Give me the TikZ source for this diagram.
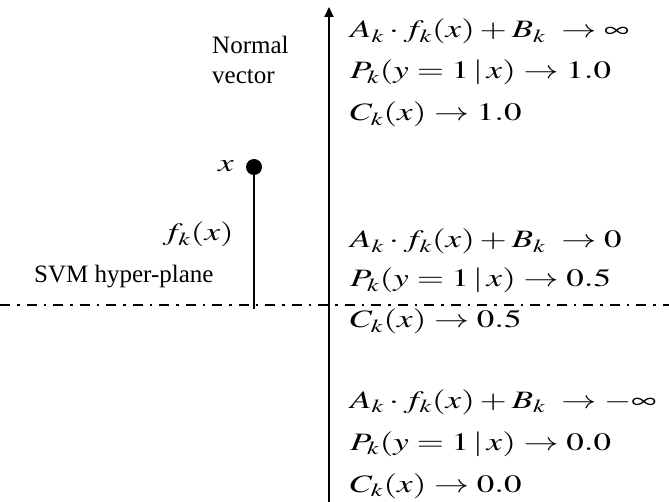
\documentclass[tikz,border=0pt]{standalone}
\usepackage{mathptmx}
\usepackage{graphicx}
\usepackage{fontspec}
\setmainfont{Liberation Serif}
\usetikzlibrary{arrows.meta,positioning}
\newcommand{\mexpr}[1]{\scalebox{1.4}[1]{$#1$}}

\begin{document}
\begin{tikzpicture}[x=1pt, y=-1pt,
  eqn/.style={anchor=base west, inner sep=0pt, font=\fontsize{25}{28}\selectfont},
  lbl/.style={anchor=base west, inner sep=0pt, font=\fontsize{25}{28}\selectfont},
  axis/.style={line width=2pt, -{Triangle[length=10pt,width=9pt]}},
  plane/.style={line width=2.2pt, dash pattern=on 10pt off 7pt on 2.5pt off 7pt},
  stem/.style={line width=2pt}
]
\useasboundingbox (0,0) rectangle (669,502);
% axes
\coordinate (axbot) at (329,502);
\coordinate (axtop) at (329,7);
\coordinate (hpl) at (0,305);
\coordinate (hpr) at (669,305);
\draw[plane] (hpl) -- (hpr);
\draw[axis] (axbot) -- (axtop);
% sample point
\node[circle, fill, inner sep=0pt, minimum size=16pt] (xpt) at (254,167) {};
\coordinate (xfoot) at (254,309);
\draw[stem] (xpt.center) -- (xfoot);
\node[eqn, anchor=base east] (xlab) at (234,172) {\mexpr{x}};
\node[eqn, anchor=base east] (flab) at (234,241) {\mexpr{f_k(x)}};
% labels
\node[lbl] (norm) at (212,54) {Normal};
\node[lbl] (vec) at (212,84) {vector};
\node[lbl] (svm) at (34,283) {SVM hyper-plane};
% upper side
\node[eqn] (a1) at (350,38) {\mexpr{A_k\cdot f_k(x)+B_k\;\rightarrow\infty}};
\node[eqn] (p1) at (350,79) {\mexpr{P_k(y=1\,|\,x)\rightarrow 1.0}};
\node[eqn] (c1) at (350,121) {\mexpr{C_k(x)\rightarrow 1.0}};
% on the plane
\node[eqn] (a2) at (350,248) {\mexpr{A_k\cdot f_k(x)+B_k\;\rightarrow 0}};
\node[eqn] (p2) at (350,287) {\mexpr{P_k(y=1\,|\,x)\rightarrow 0.5}};
\node[eqn] (c2) at (350,328) {\mexpr{C_k(x)\rightarrow 0.5}};
% lower side
\node[eqn] (a3) at (350,408) {\mexpr{A_k\cdot f_k(x)+B_k\;\rightarrow -\infty}};
\node[eqn] (p3) at (350,450) {\mexpr{P_k(y=1\,|\,x)\rightarrow 0.0}};
\node[eqn] (c3) at (350,492) {\mexpr{C_k(x)\rightarrow 0.0}};
\end{tikzpicture}
\end{document}
